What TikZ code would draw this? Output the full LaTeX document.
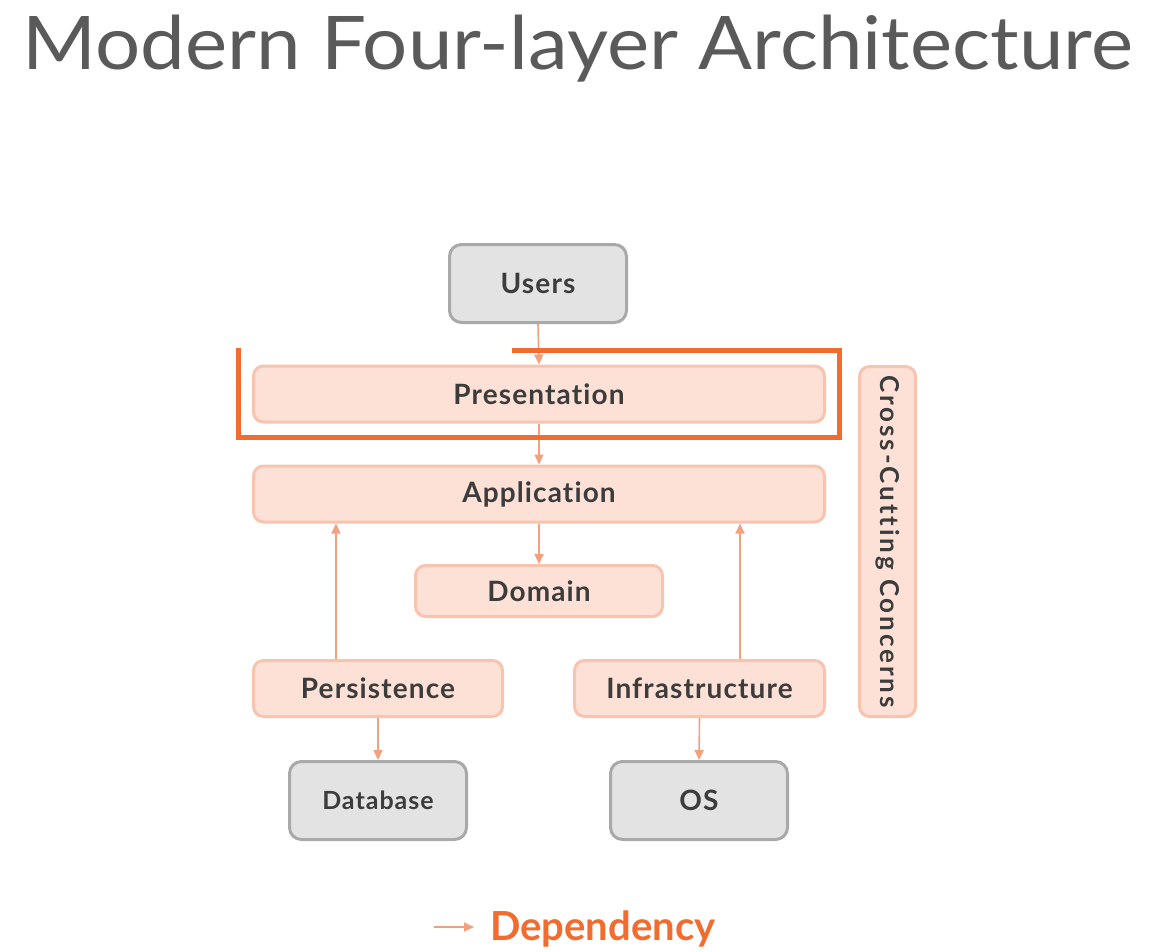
\documentclass[tikz,border=0pt]{standalone}
\usepackage{fontspec}
\setmainfont{Lato}[Ligatures={NoCommon,TeX}]
\usetikzlibrary{arrows.meta}
\definecolor{grayfill}{HTML}{E3E3E3}
\definecolor{grayline}{HTML}{A9A9A9}
\definecolor{peachfill}{HTML}{FDE1D7}
\definecolor{peachline}{HTML}{F8C4AF}
\definecolor{hiorange}{HTML}{F26B2F}
\definecolor{arrowcol}{HTML}{F3A07F}
\definecolor{txt}{HTML}{3C3C3C}
\definecolor{titlecol}{HTML}{5A5A5A}
\newcommand{\boxfont}[1]{\bfseries\fontsize{#1}{#1}\selectfont\addfontfeatures{LetterSpace=4}}
\tikzset{
  ext/.style={draw=grayline, fill=grayfill, line width=3pt, rounded corners=12pt,
    minimum width=177pt, minimum height=78pt, text=txt, font=\boxfont{28}},
  layer/.style={draw=peachline, fill=peachfill, line width=3pt, rounded corners=10pt,
    minimum height=56pt, text=txt, font=\boxfont{28}},
  depend/.style={draw=arrowcol, line width=1.6pt, -{Triangle[length=10pt,width=9pt]}},
}
\begin{document}
\begin{tikzpicture}[x=1pt,y=-1pt]
\useasboundingbox (0,0) rectangle (1151,952);
\node[anchor=base west, inner sep=0, text=titlecol, font=\fontsize{74}{80}\selectfont] (title) at (22,70) {\scalebox{1.078}[1]{Modern Four-layer Architecture}};

\node[ext] (users) at (538,283.5) {Users};
\node[layer, minimum width=571pt] (pres) at (539,394) {Presentation};
\node[layer, minimum width=571pt] (app) at (539,494) {Application};
\node[layer, minimum width=247pt, minimum height=51pt] (dom) at (539,591) {Domain};
\node[layer, minimum width=249pt] (pers) at (378,688.5) {Persistence};
\node[layer, minimum width=250pt] (infra) at (699.5,688.5) {Infrastructure};
\node[ext, font=\boxfont{25}] (db) at (378,800.5) {Database};
\node[ext] (os) at (699,800.5) {OS};
\node[layer, rotate=-90, minimum width=350pt, minimum height=56pt, font=\bfseries\fontsize{26}{28}\selectfont\addfontfeatures{LetterSpace=11}] (cc) at (887.5,541.5) {Cross-Cutting Concerns};

\draw[depend] (users.south) -- (pres.north);
\draw[depend] (pres.south) -- (app.north);
\draw[depend] (app.south) -- (dom.north);
\draw[depend] (pers.north -| 336,0) -- (app.south -| 336,0);
\draw[depend] (infra.north -| 740,0) -- (app.south -| 740,0);
\draw[depend] (pers.south) -- (db.north);
\draw[depend] (infra.south) -- (os.north);

\draw[hiorange, line width=5pt] (512,350) -- (839,350) -- (839,437) -- (238,437) -- (238,348);

\coordinate (legA) at (434,927);
\coordinate (legB) at (474,927);
\draw[depend, line width=2pt] (legA) -- (legB);
\node[anchor=base west, inner sep=0, text=hiorange, font=\bfseries\fontsize{40}{44}\selectfont] (dep) at (490,940) {Dependency};
\end{tikzpicture}
\end{document}
